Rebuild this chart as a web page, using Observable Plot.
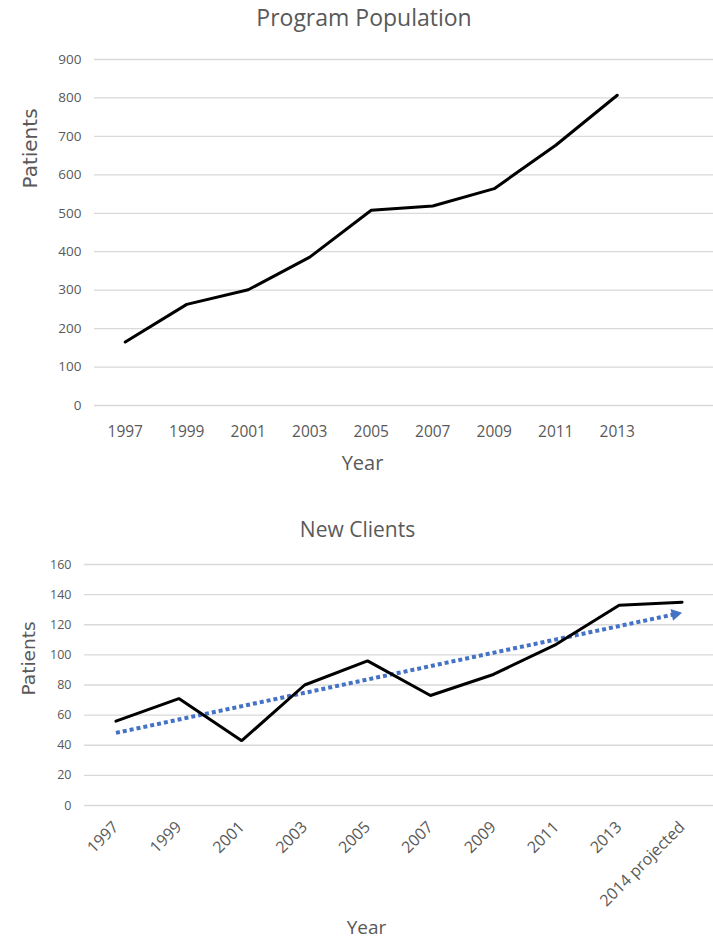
<!DOCTYPE html>
<html><head><meta charset="utf-8">
<script src="https://cdn.jsdelivr.net/npm/d3@7"></script>
<script src="https://cdn.jsdelivr.net/npm/@observablehq/plot@0.6"></script>
<style>
body{margin:0;background:#fff;}
#root{width:713px;}
#root svg{display:block;}
</style>
</head><body><div id="root"></div>
<script>
// ---- Data ----
const popYears = ["1997","1999","2001","2003","2005","2007","2009","2011","2013"];
const popValues = [165, 263, 301, 386, 508, 519, 564, 677, 807];
const popTicks = [0,100,200,300,400,500,600,700,800,900];

const clientYears = ["1997","1999","2001","2003","2005","2007","2009","2011","2013","2014 projected"];
const clientValues = [56, 71, 43, 80, 96, 73, 87, 107, 133, 135];
const clientTicks = [0,20,40,60,80,100,120,140,160];

const titles = {top: "Program Population", bottom: "New Clients"};
const yLabel = "Patients";
const xLabel = "Year";

// ---- Styles ----
const font = "'Open Sans', sans-serif";
const gray = "#595959";
const gridColor = "#d9d9d9";

const popData = popValues.map((v, i) => ({i, v}));
const clientData = clientValues.map((v, i) => ({i, v}));

// linear trend (least squares) of the new-clients series
const n = clientValues.length;
const mx = d3.mean(clientData, d => d.i), my = d3.mean(clientData, d => d.v);
const slope = d3.sum(clientData, d => (d.i - mx) * (d.v - my)) / d3.sum(clientData, d => (d.i - mx) ** 2);
const trend = i => my + slope * (i - mx);

const root = document.getElementById("root");

// ---- Top chart ----
const topChart = Plot.plot({
  width: 713, height: 480,
  marginTop: 59, marginBottom: 75, marginLeft: 94, marginRight: 0,
  style: {fontFamily: font, color: gray, background: "#fff", overflow: "visible"},
  x: {domain: [-0.5, 9.5], range: [94, 709]},
  y: {domain: [0, 900]},
  marks: [
    Plot.gridY(popTicks, {stroke: gridColor, strokeOpacity: 1, strokeWidth: 1.3}),
    Plot.axisY(popTicks, {tickSize: 0, tickPadding: 13, fontSize: 13.5, label: null}),
    Plot.axisX(d3.range(popYears.length), {tickSize: 0, tickPadding: 20, fontSize: 15.5, tickFormat: i => popYears[i], label: null}),
    Plot.line(popData, {x: "i", y: "v", stroke: "#000", strokeWidth: 3, strokeLinejoin: "miter"}),
    Plot.text([titles.top], {frameAnchor: "top", lineAnchor: "middle", dx: -40, dy: -41, fontSize: 23, fill: gray}),
    Plot.text([yLabel], {frameAnchor: "left", lineAnchor: "middle", dx: -63.5, dy: -44, rotate: -90, fontSize: 20, fill: gray, fontFamily: "'DejaVu Sans', sans-serif"}),
    Plot.text([xLabel], {frameAnchor: "bottom", lineAnchor: "middle", dx: -41.5, dy: 58, fontSize: 20, fill: gray})
  ]
});
root.appendChild(topChart);

// ---- Bottom chart ----
function makeBottom(extra) {
  return Plot.plot({
    width: 713, height: 462,
    marginTop: 84, marginBottom: 137, marginLeft: 84, marginRight: 0,
    style: {fontFamily: font, color: gray, background: "#fff", overflow: "visible"},
    x: {domain: [-0.5, 9.5], range: [84, 713]},
    y: {domain: [0, 160]},
    marks: [
      Plot.gridY(clientTicks, {stroke: gridColor, strokeOpacity: 1, strokeWidth: 1.3}),
      Plot.axisY(clientTicks, {tickSize: 0, tickPadding: 13, fontSize: 12.5, label: null}),
      Plot.axisX(d3.range(clientYears.length), {tickSize: 0, tickPadding: 19, tickRotate: -45, fontSize: 16, tickFormat: i => clientYears[i], label: null}),
      ...extra,
      Plot.line(clientData, {x: "i", y: "v", stroke: "#000", strokeWidth: 3, strokeLinejoin: "miter"}),
      Plot.text([titles.bottom], {frameAnchor: "top", lineAnchor: "middle", dx: -41.5, dy: -34, fontSize: 21, fill: gray}),
      Plot.text([yLabel], {frameAnchor: "left", lineAnchor: "middle", dx: -55.5, dy: 10.5, rotate: -90, fontSize: 18.5, fill: gray, fontFamily: "'DejaVu Sans', sans-serif"}),
      Plot.text([xLabel], {frameAnchor: "bottom", lineAnchor: "middle", dx: -32.5, dy: 122, fontSize: 19, fill: gray})
    ]
  });
}

// first pass: read the scales to orient the arrowhead
const probe = makeBottom([]);
const sx = probe.scale("x"), sy = probe.scale("y");
const last = n - 1;
const px0 = sx.apply(0), py0 = sy.apply(trend(0));
const px1 = sx.apply(last), py1 = sy.apply(trend(last));
const ang = Math.atan2(py1 - py0, px1 - px0);
const r = 4.5;
const tipDist = 2 * Math.sqrt(Math.PI * r * r / (Math.sqrt(3) * 3));
const step = sx.apply(1) - sx.apply(0);
const ic = last - tipDist * Math.cos(ang) / step;
const trendLine = [{i: 0, v: trend(0)}, {i: ic, v: trend(ic)}];
const head = [{i: ic, v: trend(ic)}];

const bottomChart = makeBottom([
  Plot.line(trendLine, {x: "i", y: "v", stroke: "#4472C4", strokeWidth: 4, strokeDasharray: "4 3", strokeLinecap: "butt"}),
  Plot.dot(head, {x: "i", y: "v", symbol: "triangle", r: r, fill: "#4472C4", stroke: "none", rotate: 90 + ang * 180 / Math.PI})
]);
root.appendChild(bottomChart);
</script>
</body></html>
